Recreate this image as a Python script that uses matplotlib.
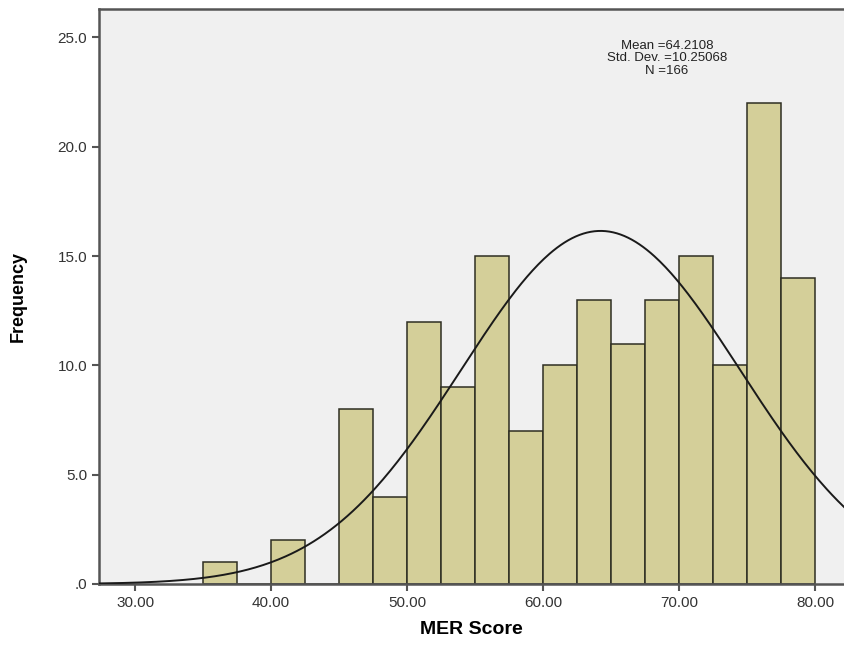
import numpy as np
import matplotlib
matplotlib.use("Agg")
import matplotlib.pyplot as plt
from matplotlib.ticker import FuncFormatter

plt.rcParams["font.family"] = ["Liberation Sans", "DejaVu Sans"]

# histogram bins (width 2.5) and counts
bin_left = [35.0, 37.5, 40.0, 42.5, 45.0, 47.5, 50.0, 52.5, 55.0,
            57.5, 60.0, 62.5, 65.0, 67.5, 70.0, 72.5, 75.0, 77.5]
counts = [1, 0, 2, 0, 8, 4, 12, 9, 15, 7, 10, 13, 11, 13, 15, 10, 22, 14]
bin_width = 2.5

mean = 64.2108
sd = 10.25068
n = 166

x_ticks = [30, 40, 50, 60, 70, 80]
y_ticks = [0, 5, 10, 15, 20, 25]

fig = plt.figure(figsize=(8.44, 6.48), dpi=100)
ax = fig.add_axes([0.1173, 0.0988, 0.8827, 0.8872])
ax.set_facecolor("#f0f0f0")

ax.bar(bin_left, counts, width=bin_width, align="edge",
       color="#d4cf99", edgecolor="#2e2e22", linewidth=1.1, zorder=2)

# normal curve for the stated mean / sd, scaled to counts
xs = np.linspace(27.3, 82.2, 400)
ys = n * bin_width * np.exp(-0.5 * ((xs - mean) / sd) ** 2) / (sd * np.sqrt(2 * np.pi))
ax.plot(xs, ys, color="#1a1a1a", lw=1.4, zorder=3)

ax.set_xlim(27.35, 82.1)
ax.set_ylim(0, 26.3)
ax.set_xticks(x_ticks)
ax.set_yticks(y_ticks)
ax.xaxis.set_major_formatter(FuncFormatter(lambda v, p: "%.2f" % v))
ax.yaxis.set_major_formatter(FuncFormatter(lambda v, p: ".0" if v == 0 else "%.1f" % v))
ax.tick_params(axis="both", direction="out", length=5, width=1.5,
               color="#555555", labelsize=11, labelcolor="#333333")

for s in ["left", "top", "bottom"]:
    ax.spines[s].set_color("#555555")
    ax.spines[s].set_linewidth(1.8)
ax.spines["right"].set_visible(False)

ax.set_xlabel("MER Score", fontsize=14, fontweight="bold", labelpad=8)
ax.set_ylabel("Frequency", fontsize=13, fontweight="bold", labelpad=22)

ax.text(69.1, 24.05, "Mean =%.4f\nStd. Dev. =%.5f\nN =%d" % (mean, sd, n),
        ha="center", va="center", fontsize=9.5, color="#222222", linespacing=1.05)

fig.savefig("out.png", dpi=100)
